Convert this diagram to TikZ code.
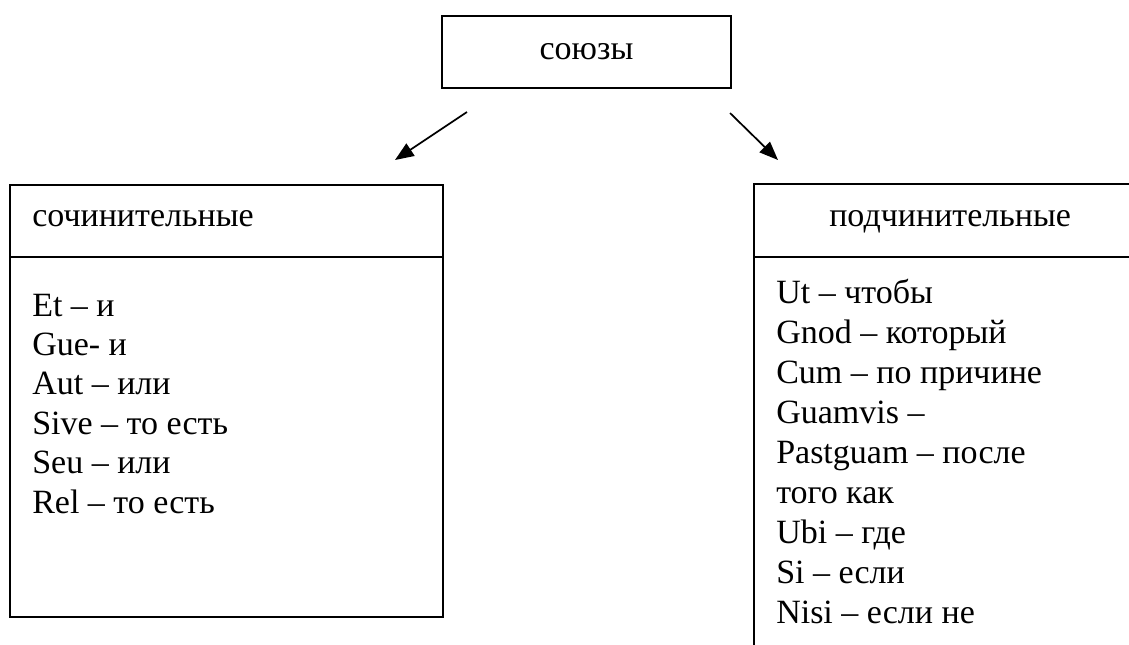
\documentclass[tikz,border=0pt]{standalone}
\usepackage{fontspec}
\setmainfont{Liberation Serif}
\usetikzlibrary{arrows.meta,positioning}

\tikzset{
  px/.style={x=0.75pt,y=-0.75pt},
  frame/.style={draw,rectangle,line width=1.4pt,inner sep=0pt},
  word/.style={inner sep=0pt,anchor=base west,font=\fontsize{25.5}{30}\selectfont},
  pointer/.style={line width=1.3pt,-{Triangle[length=14pt,width=11pt]}}
}

\begin{document}
\begin{tikzpicture}[px]
\useasboundingbox (0,0) rectangle (1129,644);
\clip (0,0) rectangle (1129,644);

% top
\node[frame,minimum width=216.75pt,minimum height=54pt,
      font=\fontsize{25.5}{30}\selectfont] (conj) at (586.5,52) {союзы};

% left column
\node[frame,minimum width=324.75pt,minimum height=54pt] (cohead) at (226.5,221) {};
\node[frame,minimum width=324.75pt,minimum height=270pt] (cobody) at (226.5,437) {};
\node[word] (cotitle) at (32,226) {сочинительные};
\foreach \txt [count=\i from 0] in {Et – и, Gue- и, Aut – или, Sive – то есть, Seu – или, Rel – то есть}
  \node[word] (co\i) at (32,{316+39.4*\i}) {\txt};

% right column
\node[frame,minimum width=297pt,minimum height=54.75pt] (subhead) at (952,220.5) {};
\node[frame,minimum width=297pt,minimum height=309.75pt] (subbody) at (952,463.5) {};
\node[word] (subtitle) at (829,226) {подчинительные};
\foreach \txt [count=\i from 0] in {Ut – чтобы, Gnod – который, Cum – по причине, Guamvis –,
    Pastguam – после, того как, Ubi – где, Si – если, Nisi – если не}
  \node[word] (sub\i) at (776,{303+40*\i}) {\txt};

% arrows
\coordinate (lfrom) at (467,112);
\coordinate (lto) at (395,160);
\coordinate (rfrom) at (730,113);
\coordinate (rto) at (778,160);
\draw[pointer] (lfrom) -- (lto);
\draw[pointer] (rfrom) -- (rto);
\end{tikzpicture}
\end{document}
